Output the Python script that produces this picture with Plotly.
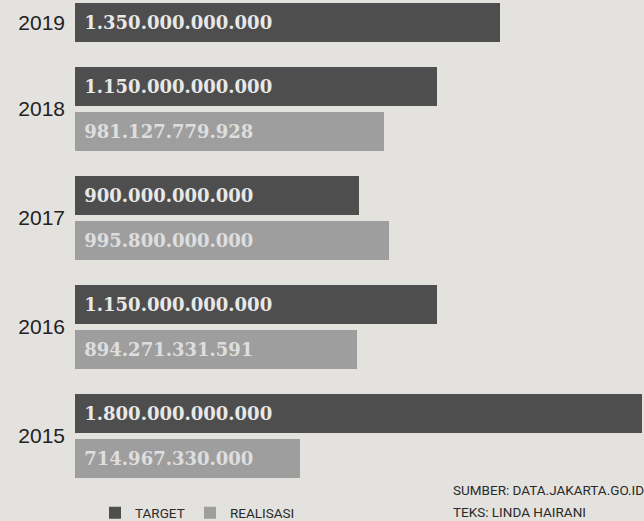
import plotly.graph_objects as go

# ---- data ----
years = ["2019", "2018", "2017", "2016", "2015"]
target = [1350000000000, 1150000000000, 900000000000, 1150000000000, 1800000000000]
realisasi = [None, 981127779928, 995800000000, 894271331591, 714967330000]

def fmt(v):
    return "\u00a0" + f"{v:,}".replace(",", ".")

# ---- layout constants (pixel-like units on y) ----
FIRST = 22.5
STEP = 45
GAP = 64
BAR_W = 39.5

t_pos, r_pos, tick_pos = [], [], []
pos = FIRST
for i, y in enumerate(years):
    if i > 0:
        pos += GAP
    t_pos.append(pos)
    if realisasi[i] is not None:
        pos += STEP
        r_pos.append(pos)
        tick_pos.append((t_pos[-1] + pos) / 2)
    else:
        r_pos.append(None)
        tick_pos.append(t_pos[-1])

r_x = [v for v in realisasi if v is not None]
r_y = [p for p in r_pos if p is not None]

BG = "#e3e2df"
DARK = "#4e4e4e"
LIGHT = "#9e9e9e"
T_FONT = dict(family="DejaVu Serif", size=18, color="#e8e8e8", weight="bold")
R_FONT = dict(family="DejaVu Serif", size=18, color="#dedede", weight="bold")
SMALL = dict(family="Liberation Sans Narrow, Roboto", size=13.5, color="#2a2a2a")

W, H = 644, 521
MB = 40                 # bottom margin holding legend / source
PH = H - MB             # plot-area height in px

fig = go.Figure()
fig.add_trace(go.Bar(
    name="TARGET", orientation="h", x=target, y=t_pos, width=BAR_W,
    marker=dict(color=DARK, line=dict(width=0)),
    text=[fmt(v) for v in target], textposition="inside",
    insidetextanchor="start", textfont=T_FONT, textangle=0,
    cliponaxis=False, legend="legend",
))
fig.add_trace(go.Bar(
    name="REALISASI", orientation="h", x=r_x, y=r_y, width=BAR_W,
    marker=dict(color=LIGHT, line=dict(width=0)),
    text=[fmt(v) for v in r_x], textposition="inside",
    insidetextanchor="start", textfont=R_FONT, textangle=0,
    cliponaxis=False, legend="legend2",
))

def px_x(px):
    return (px - 75) / (W - 75)

def px_y(px):
    return (PH - px) / PH

leg_common = dict(orientation="h", xanchor="left", yanchor="middle",
                  yref="container", y=(H - 513) / H,
                  bgcolor="rgba(0,0,0,0)", font=SMALL)

fig.update_layout(
    width=W, height=H,
    margin=dict(l=75, r=0, t=0, b=MB, autoexpand=False),
    paper_bgcolor=BG, plot_bgcolor=BG,
    barmode="overlay",
    bargap=0,
    xaxis=dict(range=[0, 1.806e12], visible=False, fixedrange=True),
    yaxis=dict(range=[PH, 0], tickvals=tick_pos, ticktext=years,
               showgrid=False, zeroline=False, showline=False, ticks="",
               ticklabelstandoff=9,
               tickfont=dict(family="Liberation Sans, Arial", size=21, color="#232323")),
    showlegend=True,
    legend=dict(x=px_x(108 - 13), **leg_common),
    legend2=dict(x=px_x(203 - 13), **leg_common),
    annotations=[
        dict(text="SUMBER: DATA.JAKARTA.GO.ID", xref="paper", yref="paper",
             x=px_x(451), y=px_y(490), xanchor="left", yanchor="middle",
             showarrow=False, font=SMALL),
        dict(text="TEKS: LINDA HAIRANI", xref="paper", yref="paper",
             x=px_x(451), y=px_y(512), xanchor="left", yanchor="middle",
             showarrow=False, font=SMALL),
    ],
)

fig.write_html("out.html", config={"displayModeBar": False})
